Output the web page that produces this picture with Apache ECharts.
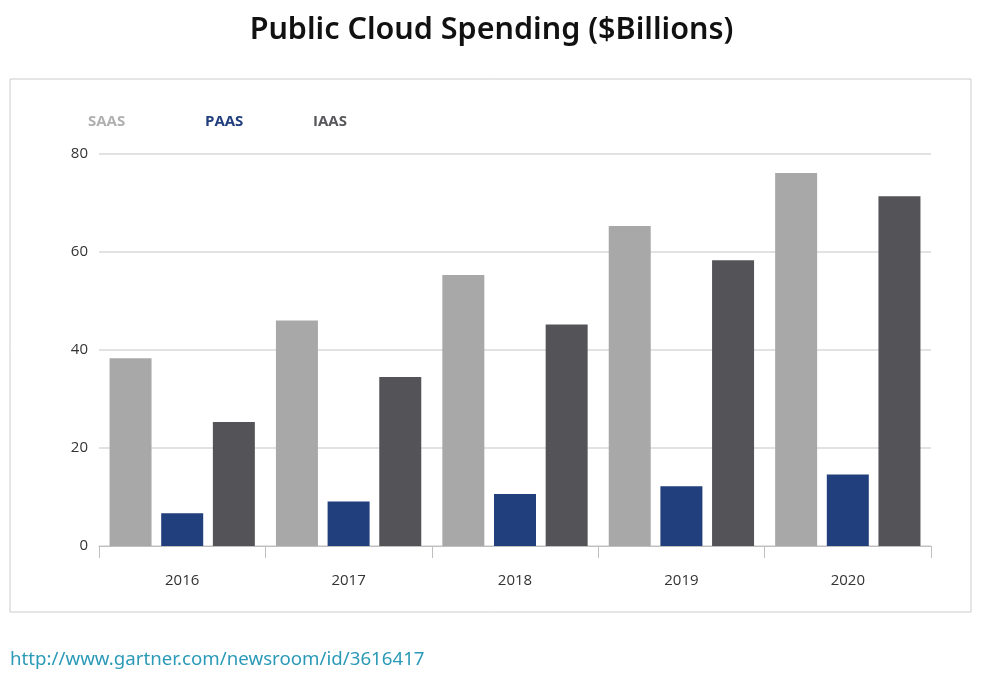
<!DOCTYPE html>
<html>
<head>
<meta charset="utf-8">
<script src="https://cdn.jsdelivr.net/npm/echarts@6/dist/echarts.min.js"></script>
<style>html,body{margin:0;padding:0;background:#fff;}#c{width:983px;height:676px;}</style>
</head>
<body>
<div id="c"></div>
<script>
const years = ['2016', '2017', '2018', '2019', '2020'];
const saas = [38.3, 46.0, 55.3, 65.3, 76.1];
const paas = [6.7, 9.1, 10.6, 12.2, 14.6];
const iaas = [25.3, 34.5, 45.2, 58.3, 71.4];
const yTicks = [0, 20, 40, 60, 80];

const chart = echarts.init(document.getElementById('c'));
const legendFont = {fontFamily: 'Open Sans', fontSize: 15, fontWeight: 'bold'};
chart.setOption({
  animation: false,
  backgroundColor: '#fff',
  title: [
    {text: 'Public Cloud Spending ($Billions)', left: 'center', top: 10,
     textStyle: {fontFamily: 'Noto Sans', fontSize: 30.5, fontWeight: 600, color: '#111'}},
    {text: 'http://www.gartner.com/newsroom/id/3616417', left: 5, top: 645,
     textStyle: {fontFamily: 'Noto Sans', fontSize: 18.7, fontWeight: 'normal', color: '#2b9ab8'}}
  ],
  legend: [
    {data: [{name: 'SAAS', textStyle: {color: '#b0b0b0'}}], left: 83, top: 114, padding: 0, icon: 'none', itemWidth: 0, textStyle: legendFont, selectedMode: false},
    {data: [{name: 'PAAS', textStyle: {color: '#213f7c'}}], left: 200, top: 114, padding: 0, icon: 'none', itemWidth: 0, textStyle: legendFont, selectedMode: false},
    {data: [{name: 'IAAS', textStyle: {color: '#58585c'}}], left: 308, top: 114, padding: 0, icon: 'none', itemWidth: 0, textStyle: legendFont, selectedMode: false}
  ],
  graphic: [{type: 'rect', shape: {x: 10, y: 79, width: 961, height: 533}, style: {fill: 'none', stroke: '#cccccc', lineWidth: 1}, silent: true}],
  grid: {left: 99, right: 52, top: 154, bottom: 130},
  xAxis: {
    type: 'category', data: years, boundaryGap: true,
    axisLine: {show: true, lineStyle: {color: '#bfbfbf'}},
    axisTick: {show: true, alignWithLabel: false, interval: 0, length: 12, lineStyle: {color: '#bfbfbf', width: 1}},
    axisLabel: {margin: 27, fontFamily: 'Open Sans', fontSize: 15, color: '#333'}
  },
  yAxis: {
    type: 'value', min: yTicks[0], max: yTicks[yTicks.length - 1], interval: 20,
    axisLine: {show: false}, axisTick: {show: false},
    axisLabel: {margin: 11, fontFamily: 'Open Sans', fontSize: 15, color: '#333'},
    splitLine: {lineStyle: {color: '#d9d9d9', width: 1.5}}
  },
  series: [
    {name: 'SAAS', type: 'bar', data: saas, barWidth: 42, barGap: '23%', itemStyle: {color: '#a8a8a8'}},
    {name: 'PAAS', type: 'bar', data: paas, barWidth: 42, barGap: '23%', itemStyle: {color: '#213f7c'}},
    {name: 'IAAS', type: 'bar', data: iaas, barWidth: 42, barGap: '23%', itemStyle: {color: '#545458'}}
  ]
});
</script>
</body>
</html>
